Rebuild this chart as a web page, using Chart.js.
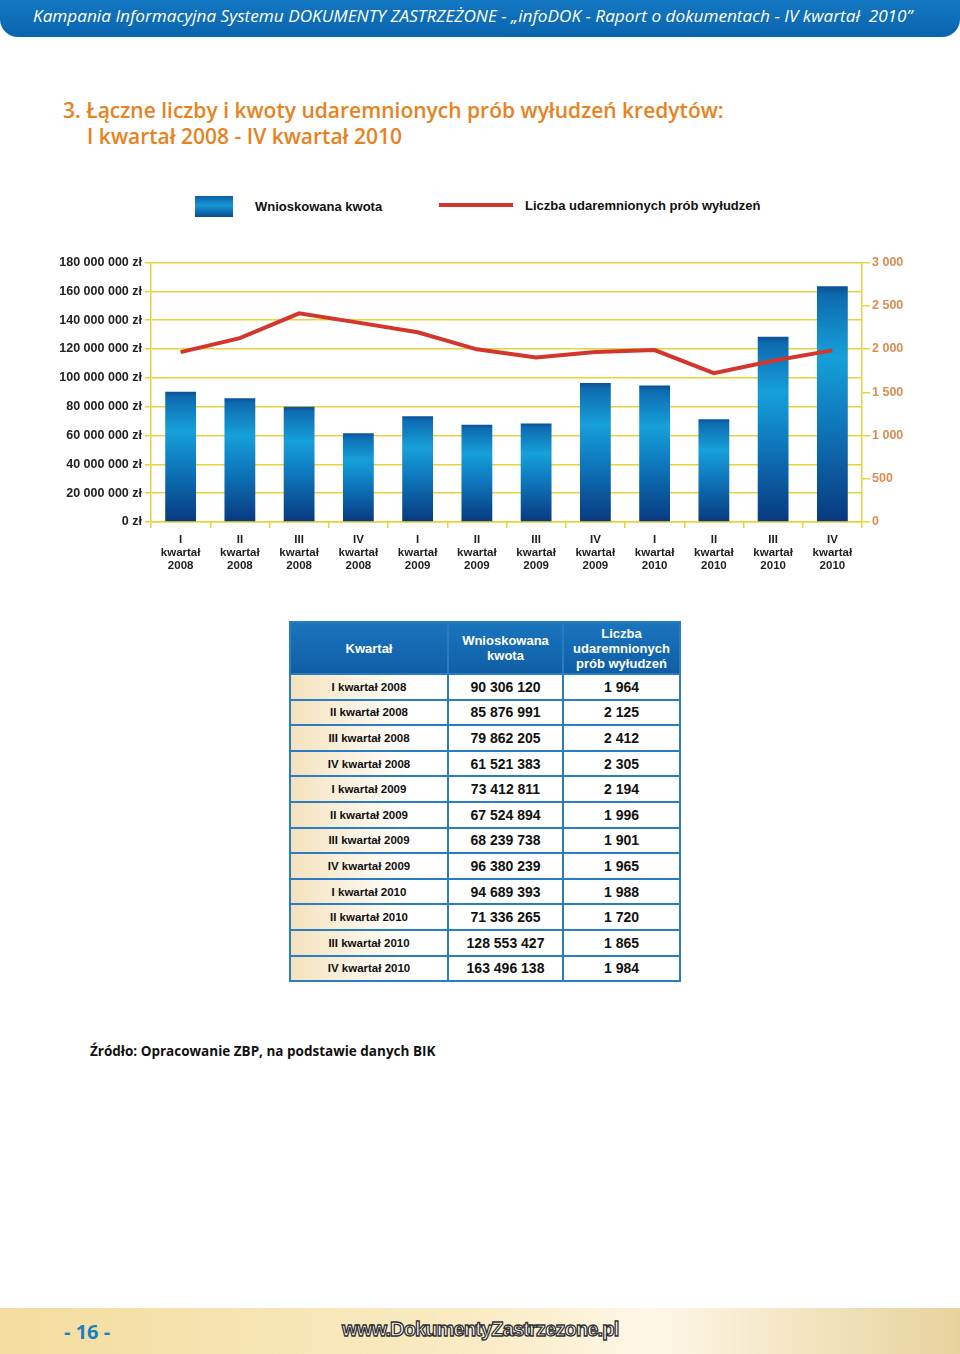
<!DOCTYPE html>
<html lang="pl">
<head>
<meta charset="utf-8">
<script src="https://cdn.jsdelivr.net/npm/chart.js@4"></script>
<style>
  html, body { margin: 0; padding: 0; }
  body { width: 960px; height: 1354px; position: relative; background: #fff; overflow: hidden;
         font-family: "Liberation Sans", Arial, sans-serif; }
  .topbar { position: absolute; left: 0; top: 0; width: 960px; height: 37px;
            background: linear-gradient(#1478c2, #0a63ad); border-radius: 0 0 18px 18px; }
  .topbar span { position: absolute; left: 33px; top: 4px; color: #fff; font: italic 17.2px "Open Sans", sans-serif;
                 white-space: nowrap; }
  .title { position: absolute; left: 63px; top: 97px; color: #e8821e; font: 600 21px "Open Sans", sans-serif;
           line-height: 26px; white-space: nowrap; }
  .title div + div { padding-left: 24px; }
  .legend-box { position: absolute; left: 195px; top: 196px; width: 38px; height: 21px;
                background: linear-gradient(#0c5ea6, #1597d5 45%, #0a4c93); }
  .legend-text { position: absolute; font: bold 13px "Liberation Sans", Arial, sans-serif; color: #111; white-space: nowrap; }
  .legend-line { position: absolute; left: 439px; top: 203px; width: 74px; height: 4px; background: #d3362c; }
  #chartWrap { position: absolute; left: 0; top: 252px; width: 960px; height: 330px; }
  table { position: absolute; left: 289px; top: 621px; border-collapse: collapse; }
  th { height: 50px; color: #fff; font: bold 13px "Liberation Sans", Arial, sans-serif;
       background: linear-gradient(#1a75bd, #0f5ea6); border: 2px solid #2a7cc0; line-height: 15px; padding: 0; }
  td { height: 23.6px; border: 2px solid #2b7cc1; padding: 0; text-align: center;
       font: bold 14px "Liberation Sans", Arial, sans-serif; color: #111; }
  td.q { font-size: 11.5px; background: linear-gradient(90deg, #f4e2bd, #fff 75%); }
  .source { position: absolute; left: 90px; top: 1042px; font: bold 13.5px "Open Sans", sans-serif; color: #111; }
  .footer { position: absolute; left: 0; top: 1308px; width: 960px; height: 46px;
            background: linear-gradient(90deg, #f3dc9e, #f9ebc4 50%, #fdf7e6 68%, #e8d29c); }
  .page { position: absolute; left: 64px; top: 1318px; color: #1d7fc1; font: bold 20px "Open Sans", sans-serif; }
  .url { position: absolute; left: 342px; top: 1318px; font: bold 20px "Liberation Sans", Arial, sans-serif;
         color: #fff; -webkit-text-stroke: 1.3px #333; letter-spacing: -0.85px; }
</style>
</head>
<body>
<div class="topbar"><span>Kampania Informacyjna Systemu DOKUMENTY ZASTRZEŻONE - „infoDOK - Raport o dokumentach - IV kwartał&nbsp; 2010”</span></div>
<div class="title">
  <div>3. Łączne liczby i kwoty udaremnionych prób wyłudzeń kredytów:</div>
  <div>I kwartał 2008 - IV kwartał 2010</div>
</div>
<div class="legend-box"></div>
<div class="legend-text" style="left:255px; top:199px;">Wnioskowana kwota</div>
<div class="legend-line"></div>
<div class="legend-text" style="left:525px; top:198px;">Liczba udaremnionych prób wyłudzeń</div>
<div id="chartWrap"><canvas id="chart"></canvas></div>
<table id="dataTable"></table>
<div class="source">Źródło: Opracowanie ZBP, na podstawie danych BIK</div>
<div class="footer"></div>
<div class="page">- 16 -</div>
<div class="url">www.DokumentyZastrzezone.pl</div>
<script>
const quarters = ['I kwartał 2008', 'II kwartał 2008', 'III kwartał 2008', 'IV kwartał 2008',
                  'I kwartał 2009', 'II kwartał 2009', 'III kwartał 2009', 'IV kwartał 2009',
                  'I kwartał 2010', 'II kwartał 2010', 'III kwartał 2010', 'IV kwartał 2010'];
const amounts = [90306120, 85876991, 79862205, 61521383, 73412811, 67524894,
                 68239738, 96380239, 94689393, 71336265, 128553427, 163496138];
const attempts = [1964, 2125, 2412, 2305, 2194, 1996, 1901, 1965, 1988, 1720, 1865, 1984];
const headers = ['Kwartał', 'Wnioskowana<br>kwota', 'Liczba<br>udaremnionych<br>prób wyłudzeń'];

const grid = '#e9d23a';
const fmt = n => String(n).replace(/\B(?=(\d{3})+(?!\d))/g, ' ');

// table built from the same arrays
const table = document.getElementById('dataTable');
let html = '<tr><th style="width:156px">' + headers[0] + '</th><th style="width:113px">' + headers[1] +
           '</th><th style="width:115px">' + headers[2] + '</th></tr>';
quarters.forEach((q, i) => {
    html += '<tr><td class="q">' + q + '</td><td>' + fmt(amounts[i]) + '</td><td>' + fmt(attempts[i]) + '</td></tr>';
});
table.innerHTML = html;

function barGradient(context) {
    const chart = context.chart;
    if (!chart.chartArea) return '#1385c8';
    const ys = chart.scales.y;
    const top = ys.getPixelForValue(context.raw);
    const bottom = ys.getPixelForValue(0);
    const g = chart.ctx.createLinearGradient(0, top, 0, bottom);
    g.addColorStop(0, '#0b4f96');
    g.addColorStop(0.04, '#0e6bb0');
    g.addColorStop(0.3, '#16a0da');
    g.addColorStop(0.55, '#0f7cc0');
    g.addColorStop(1, '#08397f');
    return g;
}

const ctx = document.getElementById('chart').getContext('2d');
new Chart(ctx, {
    data: {
        labels: quarters.map(q => q.split(' ')),
        datasets: [
            {
                type: 'line',
                label: 'Liczba udaremnionych prób wyłudzeń',
                data: attempts,
                yAxisID: 'y1',
                borderColor: '#d3362c',
                borderWidth: 4,
                pointRadius: 0,
                tension: 0,
                order: 0
            },
            {
                type: 'bar',
                label: 'Wnioskowana kwota',
                data: amounts,
                yAxisID: 'y',
                backgroundColor: barGradient,
                barPercentage: 0.52,
                categoryPercentage: 1,
                order: 1
            }
        ]
    },
    options: {
        responsive: true,
        maintainAspectRatio: false,
        animation: false,
        layout: { padding: { top: 10, left: 0, right: 0, bottom: 0 } },
        plugins: { legend: { display: false }, tooltip: { enabled: false } },
        scales: {
            x: {
                offset: true,
                border: { color: grid, width: 1.5 },
                grid: { offset: true, drawOnChartArea: false, color: grid, tickLength: 6, lineWidth: 1.5 },
                ticks: { color: '#222', font: { family: 'Liberation Sans', weight: 'bold', size: 11.5, lineHeight: 1.15 },
                         maxRotation: 0, autoSkip: false, padding: 5 },
                afterFit: s => { s.height = 60; }
            },
            y: {
                position: 'left',
                min: 0, max: 180000000,
                border: { color: grid, width: 1.5 },
                grid: { color: grid, lineWidth: 1.5, tickLength: 6 },
                ticks: { stepSize: 20000000, color: '#222', padding: 3,
                         font: { family: 'Liberation Sans', weight: 'bold', size: 12.5 },
                         callback: v => fmt(v) + ' zł' },
                afterFit: s => { s.width = 151; }
            },
            y1: {
                position: 'right',
                min: 0, max: 3000,
                border: { color: grid, width: 1.5 },
                grid: { drawOnChartArea: false, color: grid, lineWidth: 1.5, tickLength: 8 },
                ticks: { stepSize: 500, color: '#df8a4e', padding: 2,
                         font: { family: 'Liberation Sans', weight: 'bold', size: 12.5 },
                         callback: v => fmt(v) },
                afterFit: s => { s.width = 98; }
            }
        }
    }
});
</script>
</body>
</html>
